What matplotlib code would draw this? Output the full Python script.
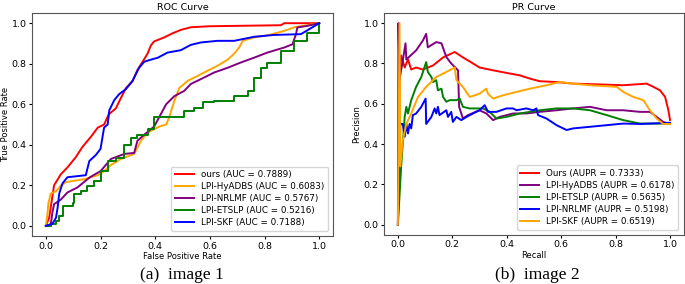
import matplotlib
matplotlib.use("Agg")
import matplotlib.pyplot as plt

# ==================================================
# ROC DATA
# ==================================================
roc_ours_x = [0, 0.012, 0.03, 0.055, 0.08, 0.11, 0.134, 0.165, 0.19, 0.213, 0.23, 0.256, 0.274, 0.293,
              0.317, 0.335, 0.354, 0.372, 0.384, 0.396, 0.433, 0.463, 0.494, 0.53, 0.6, 0.86, 0.872, 1.0]
roc_ours_y = [0, 0.04, 0.2, 0.255, 0.29, 0.34, 0.39, 0.44, 0.485, 0.5, 0.55, 0.58, 0.63, 0.68,
              0.715, 0.77, 0.81, 0.85, 0.89, 0.91, 0.93, 0.95, 0.967, 0.98, 0.985, 0.99, 1.0, 1.0]

roc_hyadbs_x = [0, 0.006, 0.009, 0.018, 0.037, 0.055, 0.073, 0.09, 0.14, 0.19, 0.213, 0.238, 0.274, 0.323,
                0.348, 0.372, 0.415, 0.44, 0.451, 0.47, 0.488, 0.518, 0.555, 0.591, 0.628, 0.665, 0.689,
                0.707, 0.72, 0.762, 0.81, 0.872, 0.909, 1.0]
roc_hyadbs_y = [0, 0.06, 0.11, 0.16, 0.17, 0.2, 0.215, 0.22, 0.23, 0.25, 0.27, 0.3, 0.33, 0.355,
                0.42, 0.46, 0.49, 0.5, 0.535, 0.617, 0.68, 0.715, 0.74, 0.765, 0.79, 0.82, 0.85,
                0.88, 0.913, 0.93, 0.94, 0.962, 0.98, 1.0]

roc_nrlmf_x = [0, 0.018, 0.024, 0.03, 0.055, 0.079, 0.116, 0.159, 0.2, 0.238, 0.287, 0.323, 0.335, 0.36,
               0.396, 0.42, 0.44, 0.47, 0.506, 0.53, 0.567, 0.616, 0.665, 0.713, 0.762, 0.81, 0.872,
               0.902, 0.915, 0.92, 0.957, 1.0]
roc_nrlmf_y = [0, 0.008, 0.066, 0.107, 0.13, 0.165, 0.19, 0.238, 0.27, 0.33, 0.355, 0.36, 0.42, 0.45,
               0.49, 0.55, 0.6, 0.64, 0.666, 0.7, 0.724, 0.757, 0.78, 0.806, 0.83, 0.855, 0.88,
               0.896, 0.946, 0.979, 0.987, 1.0]

roc_etslp_x = [0, 0.018, 0.037, 0.049, 0.061, 0.098, 0.104, 0.128, 0.152, 0.177, 0.2, 0.226, 0.256, 0.287,
               0.311, 0.335, 0.372, 0.396, 0.47, 0.506, 0.543, 0.573, 0.616, 0.689, 0.738, 0.762, 0.787,
               0.81, 0.86, 0.909, 0.957, 1.0]
roc_etslp_y = [0, 0.01, 0.025, 0.05, 0.1, 0.115, 0.156, 0.173, 0.197, 0.222, 0.27, 0.32, 0.337, 0.4,
               0.435, 0.45, 0.477, 0.535, 0.535, 0.567, 0.584, 0.609, 0.617, 0.64, 0.666, 0.73, 0.78,
               0.806, 0.864, 0.913, 0.954, 1.0]

roc_skf_x = [0, 0.024, 0.037, 0.043, 0.049, 0.061, 0.079, 0.146, 0.159, 0.183, 0.2, 0.213, 0.226, 0.232,
             0.25, 0.268, 0.293, 0.317, 0.341, 0.36, 0.384, 0.41, 0.445, 0.494, 0.53, 0.567, 0.628,
             0.689, 0.762, 0.835, 0.933, 1.0]
roc_skf_y = [0, 0.01, 0.04, 0.09, 0.16, 0.21, 0.24, 0.25, 0.32, 0.35, 0.38, 0.485, 0.5, 0.57,
             0.62, 0.65, 0.675, 0.715, 0.78, 0.81, 0.82, 0.83, 0.855, 0.867, 0.893, 0.905, 0.913,
             0.913, 0.933, 0.942, 0.946, 1.0]

roc_labels = ["ours (AUC = 0.7889)", "LPI-HyADBS (AUC = 0.6083)", "LPI-NRLMF (AUC = 0.5767)",
              "LPI-ETSLP (AUC = 0.5216)", "LPI-SKF (AUC = 0.7188)"]

# ==================================================
# PR DATA
# ==================================================
pr_ours_x = [0, 0.006, 0.012, 0.025, 0.037, 0.049, 0.067, 0.092, 0.129, 0.166, 0.209, 0.239, 0.264, 0.3,
             0.35, 0.4, 0.448, 0.485, 0.521, 0.583, 0.644, 0.767, 0.828, 0.914, 0.939, 0.963, 0.982,
             0.994, 1.0]
pr_ours_y = [0, 0.72, 0.84, 0.78, 0.82, 0.77, 0.78, 0.77, 0.79, 0.83, 0.857, 0.83, 0.81, 0.78,
             0.766, 0.753, 0.741, 0.725, 0.712, 0.708, 0.7, 0.695, 0.692, 0.7, 0.684, 0.667, 0.634,
             0.568, 0.52]

pr_hyadbs_x = [0, 0.002, 0.006, 0.018, 0.028, 0.031, 0.067, 0.092, 0.104, 0.11, 0.141, 0.16, 0.178, 0.196,
               0.221, 0.225, 0.239, 0.258, 0.3, 0.325, 0.35, 0.374, 0.423, 0.472, 0.521, 0.583, 0.644,
               0.706, 0.767, 0.828, 0.89, 0.926, 0.951, 0.975, 1.0]
pr_hyadbs_y = [0, 1.0, 0.72, 0.815, 0.9, 0.82, 0.865, 0.914, 0.947, 0.88, 0.906, 0.9, 0.832, 0.8,
               0.766, 0.585, 0.527, 0.544, 0.568, 0.552, 0.519, 0.535, 0.552, 0.552, 0.56, 0.568, 0.577,
               0.585, 0.568, 0.568, 0.56, 0.56, 0.535, 0.51, 0.5]

pr_etslp_x = [0, 0.012, 0.025, 0.031, 0.037, 0.049, 0.067, 0.086, 0.104, 0.11, 0.123, 0.129, 0.141, 0.147,
              0.16, 0.166, 0.178, 0.19, 0.215, 0.227, 0.239, 0.264, 0.313, 0.337, 0.362, 0.399, 0.448,
              0.521, 0.583, 0.644, 0.706, 0.767, 0.828, 0.89, 1.0]
pr_etslp_y = [0, 0.29, 0.535, 0.585, 0.552, 0.618, 0.684, 0.733, 0.807, 0.758, 0.733, 0.708, 0.717, 0.667,
              0.675, 0.634, 0.61, 0.618, 0.618, 0.626, 0.585, 0.577, 0.577, 0.56, 0.527, 0.535, 0.552,
              0.568, 0.577, 0.577, 0.568, 0.544, 0.519, 0.502, 0.502]

pr_nrlmf_x = [0, 0.004, 0.009, 0.018, 0.025, 0.031, 0.037, 0.043, 0.049, 0.055, 0.067, 0.086, 0.102, 0.104,
              0.123, 0.135, 0.141, 0.147, 0.153, 0.178, 0.184, 0.196, 0.202, 0.215, 0.233, 0.252, 0.276,
              0.3, 0.319, 0.331, 0.362, 0.399, 0.423, 0.436, 0.472, 0.497, 0.509, 0.515, 0.546, 0.583,
              0.62, 0.644, 0.706, 0.767, 0.828, 0.89, 1.0]
pr_nrlmf_y = [0, 0.255, 0.5, 0.5, 0.437, 0.5, 0.453, 0.5, 0.478, 0.544, 0.552, 0.585, 0.626, 0.5,
              0.535, 0.577, 0.552, 0.585, 0.544, 0.568, 0.535, 0.56, 0.51, 0.535, 0.519, 0.535, 0.552,
              0.568, 0.593, 0.56, 0.56, 0.577, 0.577, 0.568, 0.577, 0.568, 0.577, 0.544, 0.527, 0.494,
              0.47, 0.478, 0.486, 0.494, 0.502, 0.5, 0.506]

pr_skf_x = [0, 0.006, 0.009, 0.018, 0.031, 0.049, 0.074, 0.104, 0.141, 0.178, 0.209, 0.215, 0.239, 0.264,
            0.3, 0.325, 0.331, 0.35, 0.386, 0.436, 0.485, 0.546, 0.595, 0.644, 0.706, 0.767, 0.804,
            0.828, 0.865, 0.902, 0.926, 0.951, 0.975, 1.0]
pr_skf_y = [0, 1.0, 0.29, 0.42, 0.5, 0.552, 0.634, 0.684, 0.733, 0.758, 0.78, 0.717, 0.684, 0.634,
            0.65, 0.675, 0.65, 0.626, 0.642, 0.659, 0.675, 0.692, 0.708, 0.7, 0.692, 0.687, 0.684,
            0.659, 0.634, 0.618, 0.568, 0.527, 0.5, 0.5]

pr_labels = ["Ours (AUPR = 0.7333)", "LPI-HyADBS (AUPR = 0.6178)", "LPI-ETSLP (AUPR = 0.5635)",
             "LPI-NRLMF (AUPR = 0.5198)", "LPI-SKF (AUPR = 0.6519)"]

# ==================================================
# PLOT
# ==================================================
TICK_FS = 6.8
LABEL_FS = 6.0
LEG_FS = 6.3
LW = 1.4

fig = plt.figure(figsize=(6.85, 2.84), dpi=100)
ax1 = fig.add_axes([0.047, 0.169, 0.439, 0.785])
ax2 = fig.add_axes([0.561, 0.173, 0.437, 0.781])

# ROC
ax1.plot(roc_ours_x, roc_ours_y, color="red", lw=LW, label=roc_labels[0])
ax1.plot(roc_hyadbs_x, roc_hyadbs_y, color="orange", lw=LW, label=roc_labels[1])
ax1.plot(roc_nrlmf_x, roc_nrlmf_y, color="purple", lw=LW, label=roc_labels[2])
ax1.plot(roc_etslp_x, roc_etslp_y, color="green", lw=LW, drawstyle="steps-post", label=roc_labels[3])
ax1.plot(roc_skf_x, roc_skf_y, color="blue", lw=LW, label=roc_labels[4])
ax1.set_xlabel("False Positive Rate", fontsize=LABEL_FS, labelpad=1)
ax1.set_ylabel("True Positive Rate", fontsize=LABEL_FS)
ax1.yaxis.set_label_coords(-0.072, 0.5)
ax1.set_title("ROC Curve", fontsize=6.8, pad=2)

# PR
ax2.plot(pr_ours_x, pr_ours_y, color="red", lw=LW, label=pr_labels[0])
ax2.plot(pr_hyadbs_x, pr_hyadbs_y, color="purple", lw=LW, label=pr_labels[1])
ax2.plot(pr_etslp_x, pr_etslp_y, color="green", lw=LW, label=pr_labels[2])
ax2.plot(pr_nrlmf_x, pr_nrlmf_y, color="blue", lw=LW, label=pr_labels[3])
ax2.plot(pr_skf_x, pr_skf_y, color="orange", lw=LW, label=pr_labels[4])
ax2.set_xlabel("Recall", fontsize=LABEL_FS, labelpad=1)
ax2.set_ylabel("Precision", fontsize=LABEL_FS)
ax2.yaxis.set_label_coords(-0.077, 0.5)
ax2.set_title("PR Curve", fontsize=6.8, pad=2)

for ax in (ax1, ax2):
    ax.legend(loc="lower right", fontsize=LEG_FS, handlelength=2.2, labelspacing=0.35,
              borderaxespad=0.6)
    ax.tick_params(labelsize=TICK_FS, length=2.5, pad=1.5)
    for s in ax.spines.values():
        s.set_color("#555555")

# captions
fig.text(0.266, 0.032, "(a)  image 1", fontsize=12.5, family="Liberation Serif", ha="center", va="center")
fig.text(0.784, 0.032, "(b)  image 2", fontsize=12.5, family="Liberation Serif", ha="center", va="center")

plt.savefig("out.png", dpi=100)
